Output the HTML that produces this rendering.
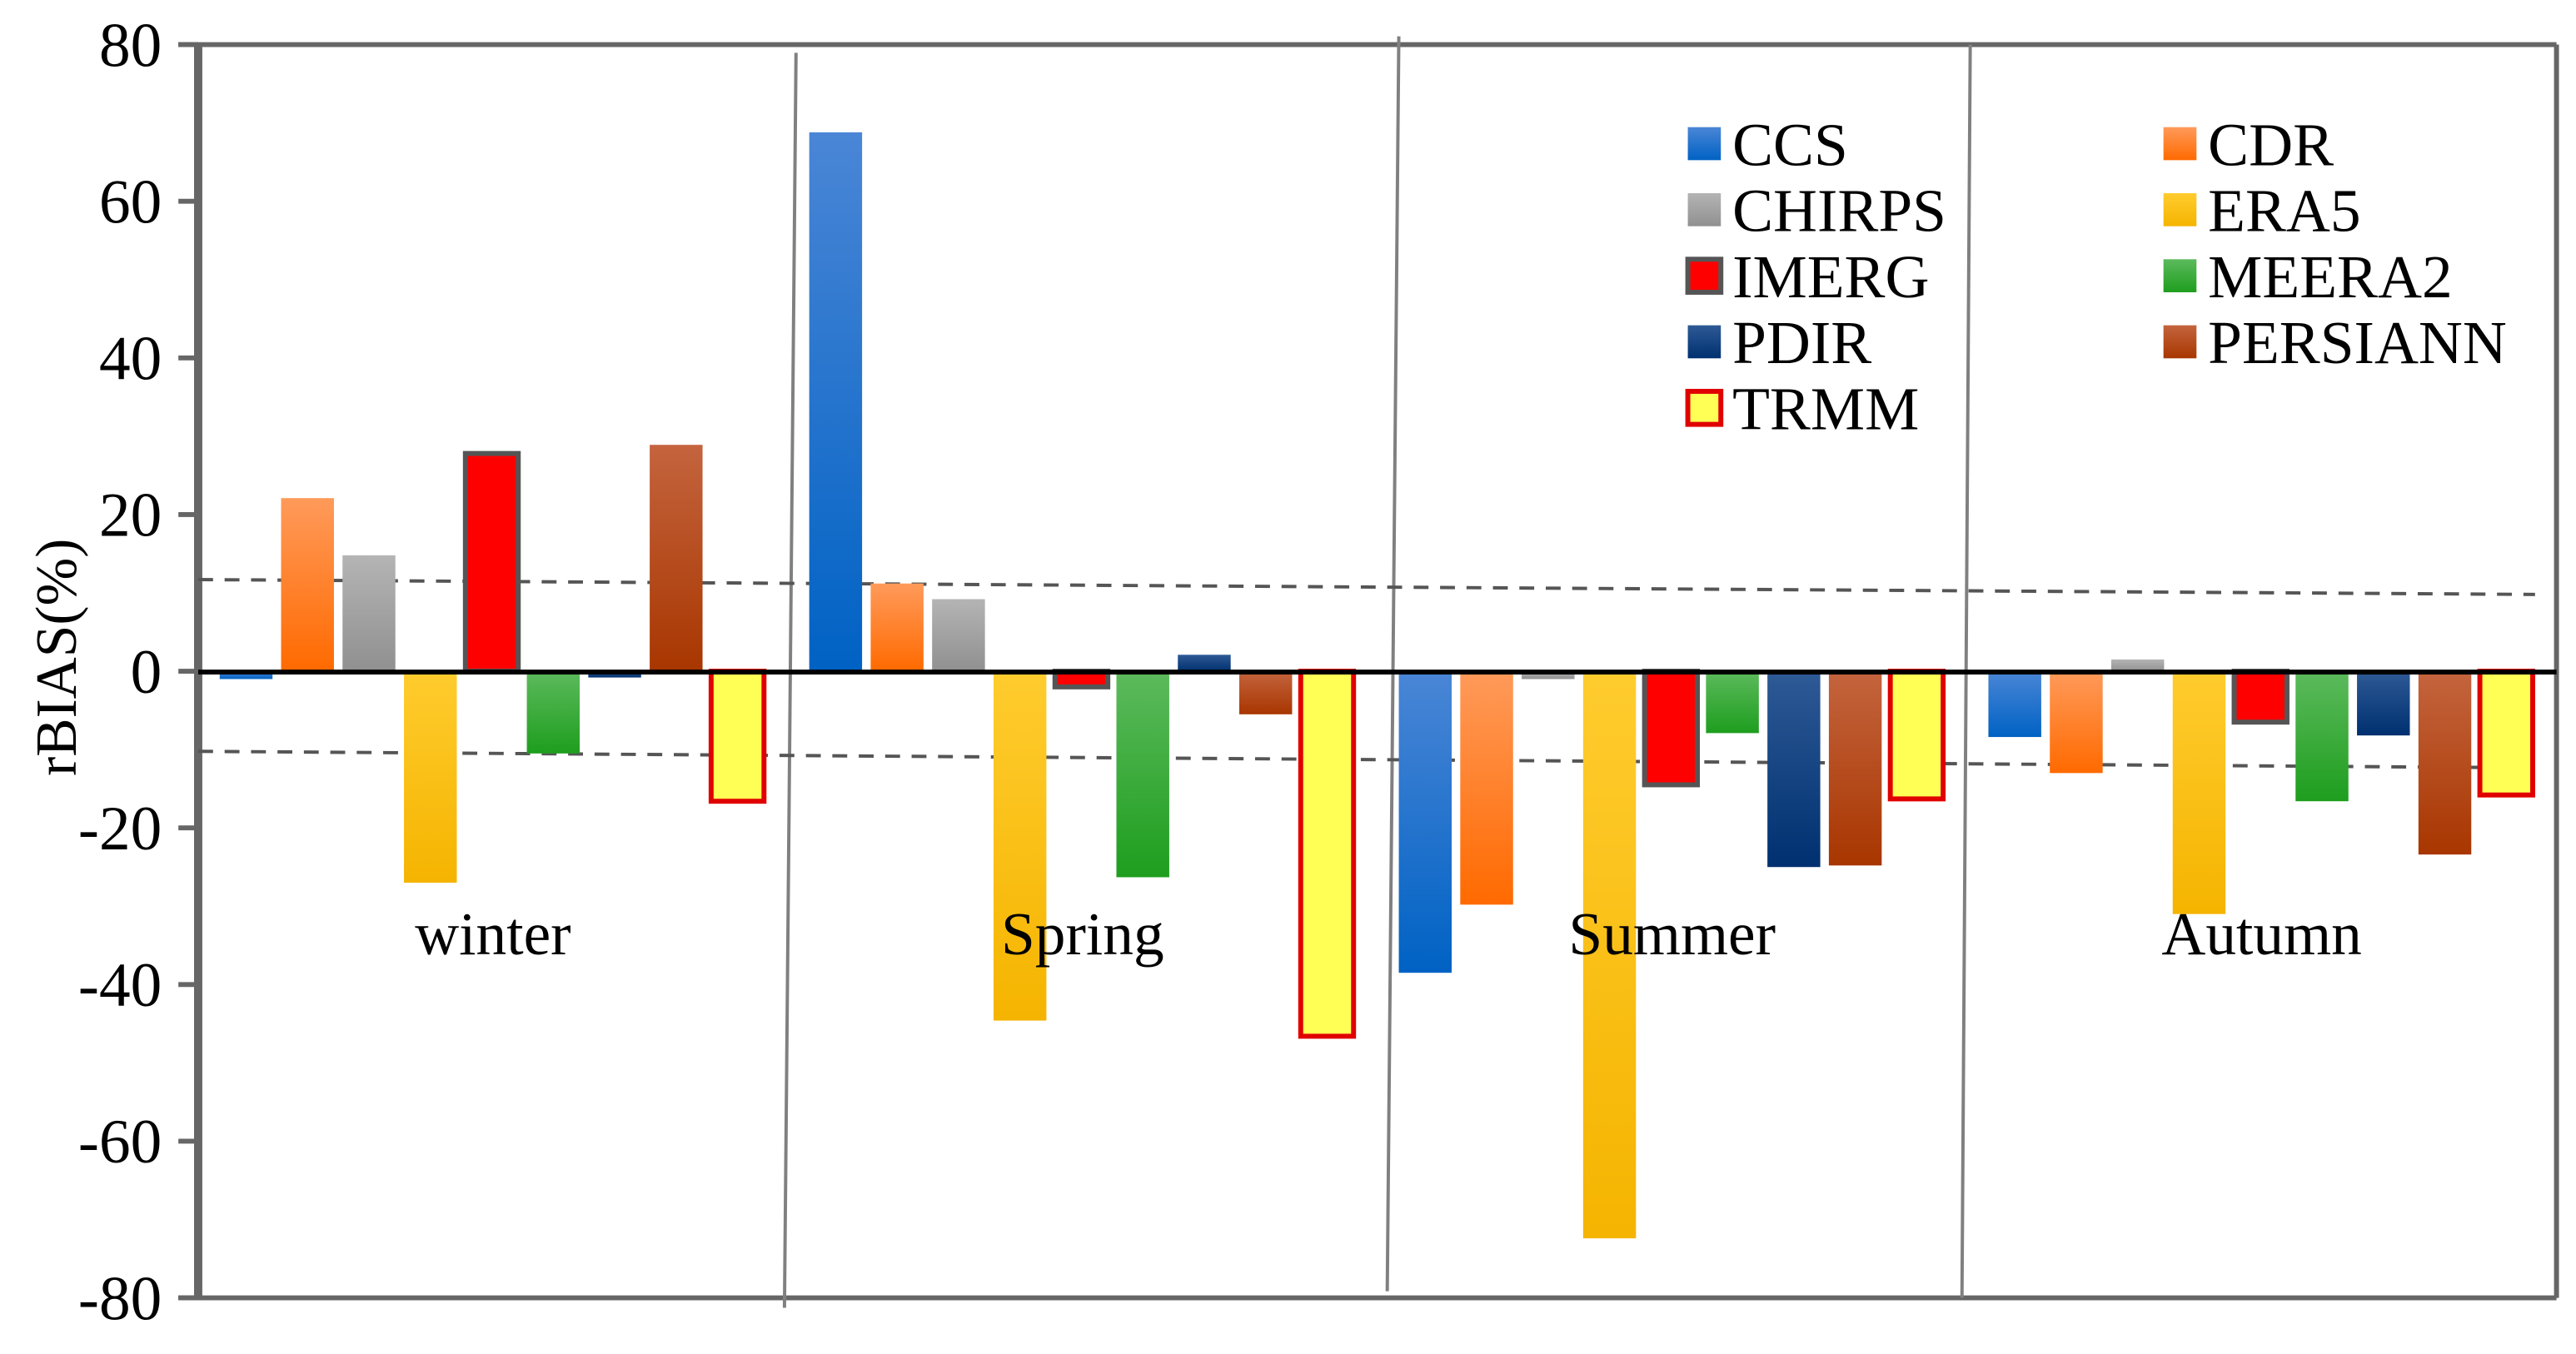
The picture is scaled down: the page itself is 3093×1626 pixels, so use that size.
<!DOCTYPE html>
<html><head><meta charset="utf-8"><style>
html,body{margin:0;padding:0;background:#fff;}
svg{display:block;}
text{font-family:"Liberation Serif",serif;}
</style></head><body>
<svg id="chart" width="3093" height="1626" viewBox="0 0 1559.8 820" xmlns="http://www.w3.org/2000/svg" font-family="Liberation Serif, serif">
<defs>
<linearGradient id="g0" x1="0" y1="0" x2="0" y2="1"><stop offset="0" stop-color="#4a86d6"/><stop offset="1" stop-color="#0062c4"/></linearGradient>
<linearGradient id="g1" x1="0" y1="0" x2="0" y2="1"><stop offset="0" stop-color="#ff9a5a"/><stop offset="1" stop-color="#ff6a00"/></linearGradient>
<linearGradient id="g2" x1="0" y1="0" x2="0" y2="1"><stop offset="0" stop-color="#b4b4b4"/><stop offset="1" stop-color="#909090"/></linearGradient>
<linearGradient id="g3" x1="0" y1="0" x2="0" y2="1"><stop offset="0" stop-color="#ffcc2e"/><stop offset="1" stop-color="#f5b400"/></linearGradient>
<linearGradient id="g4" x1="0" y1="0" x2="0" y2="1"><stop offset="0" stop-color="#ff0000"/><stop offset="1" stop-color="#ff0000"/></linearGradient>
<linearGradient id="g5" x1="0" y1="0" x2="0" y2="1"><stop offset="0" stop-color="#5cba5c"/><stop offset="1" stop-color="#1e9e1e"/></linearGradient>
<linearGradient id="g6" x1="0" y1="0" x2="0" y2="1"><stop offset="0" stop-color="#2e5a96"/><stop offset="1" stop-color="#003070"/></linearGradient>
<linearGradient id="g7" x1="0" y1="0" x2="0" y2="1"><stop offset="0" stop-color="#c4643e"/><stop offset="1" stop-color="#a83600"/></linearGradient>
<linearGradient id="g8" x1="0" y1="0" x2="0" y2="1"><stop offset="0" stop-color="#ffff55"/><stop offset="1" stop-color="#ffff55"/></linearGradient>
</defs>
<g id="frame">
<line x1="108" y1="27" x2="1548" y2="27" stroke="#666" stroke-width="3"/>
<line x1="108" y1="786" x2="1548" y2="786" stroke="#666" stroke-width="3"/>
<line x1="1548" y1="27" x2="1548" y2="786" stroke="#666" stroke-width="3"/>
<line x1="120" y1="27" x2="120" y2="786" stroke="#666" stroke-width="5"/>
<line x1="482" y1="32" x2="475" y2="792" stroke="#808080" stroke-width="2"/>
<line x1="847" y1="22" x2="840" y2="782" stroke="#808080" stroke-width="2"/>
<line x1="1193" y1="27" x2="1188" y2="786" stroke="#808080" stroke-width="2"/>
<line x1="120" y1="351" x2="1535" y2="360" stroke="#555" stroke-width="2" stroke-dasharray="9,7"/>
<line x1="120" y1="455" x2="1535" y2="465" stroke="#555" stroke-width="2" stroke-dasharray="9,7"/>
</g>
<g id="ticks"></g>
<g id="bars"></g>
<line x1="120" y1="407" x2="1548" y2="407" stroke="#000" stroke-width="3"/>
<text transform="translate(46,398) rotate(-90)" text-anchor="middle" font-size="35">rBIAS(%)</text>
<g id="seasonLabels"></g>
<g id="legend"></g>
</svg>
<script>
const seasons = ["winter","Spring","Summer","Autumn"];
const products = ["CCS","CDR","CHIRPS","ERA5","IMERG","MEERA2","PDIR","PERSIANN","TRMM"];
const ccs = [-1, 68.8, -38.5, -8.4];
const cdr = [22.1, 11.2, -29.8, -13];
const chirps = [14.8, 9.2, -1, 1.5];
const era5 = [-27, -44.6, -72.4, -31];
const imerg = [27.8, -2, -14.5, -6.5];
const meera2 = [-10.5, -26.3, -7.9, -16.6];
const pdir = [-0.8, 2.1, -25, -8.2];
const persiann = [28.9, -5.5, -24.8, -23.4];
const trmm = [-16.6, -46.6, -16.3, -15.8];
const series = [ccs, cdr, chirps, era5, imerg, meera2, pdir, persiann, trmm];
const yTicks = [80,60,40,20,0,-20,-40,-60,-80];

const NS = "http://www.w3.org/2000/svg";
const plotL = 120, plotR = 1548, plotT = 27, plotB = 786, yMin = -80, yMax = 80;
function y(v){ return plotB - (v - yMin) / (yMax - yMin) * (plotB - plotT); }
const groupW = (plotR - plotL) / seasons.length;
function xBar(g, j){ return plotL + g * groupW + 13 + j * 37.2; }
const barW = 32;
const strokes = [null,null,null,null,"#555",null,null,null,"#e00000"];
function mk(tag, attrs, parent){ const e = document.createElementNS(NS, tag); for (const k in attrs) e.setAttribute(k, attrs[k]); parent.appendChild(e); return e; }

const ticksG = document.getElementById("ticks");
yTicks.forEach(t => {
  const l = mk("line", {x1:108, x2:120, y1:y(t), y2:y(t), stroke:"#666", "stroke-width":3}, ticksG);
  
  
  const tx = mk("text", {x:98, y:y(t)+13, "text-anchor":"end", "font-size":38}, ticksG);
  
  
  tx.textContent = String(t);
});

const barsG = document.getElementById("bars");
series.forEach((arr, j) => {
  arr.forEach((v, g) => {
    const y0 = y(0), yv = y(v);
    const attrs = {x: xBar(g, j), y: Math.min(y0, yv), width: barW, height: Math.max(Math.abs(yv - y0), 1), fill: "url(#g" + j + ")"};
    if (strokes[j]) { attrs.stroke = strokes[j]; attrs["stroke-width"] = 3; }
    const r = mk("rect", attrs, barsG);
    
    
  });
});

const slG = document.getElementById("seasonLabels");
seasons.forEach((s, g) => {
  const t = mk("text", {x: plotL + g * groupW + 178.5, y: 578, "text-anchor":"middle", "font-size":37}, slG);
  
  
  t.textContent = s;
});

const lg = document.getElementById("legend");
const legendStroke = [null,null,null,null,"#555",null,null,null,"#e00000"];
products.forEach((p, j) => {
  const col = j % 2, row = Math.floor(j / 2);
  const sx = col ? 1310 : 1022, cy = 87 + row * 40;
  const a = {x: sx, y: cy - 10, width: 20, height: 20, fill: "url(#g" + j + ")"};
  if (legendStroke[j]) { a.stroke = legendStroke[j]; a["stroke-width"] = 3; }
  const r = mk("rect", a, lg);
  
  
  const t = mk("text", {x: sx + 27, y: cy + 13, "font-size":37}, lg);
  
  
  t.textContent = p;
});
</script>
</body></html>
